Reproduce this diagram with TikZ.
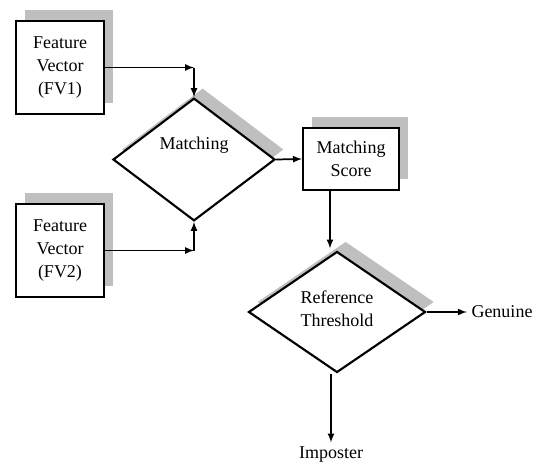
\documentclass[tikz,border=0pt]{standalone}
\usepackage{fontspec}
\setmainfont{Liberation Serif}
\usepackage{tikz}
\usetikzlibrary{arrows,positioning,shapes.geometric,shadows}
\tikzstyle{fvbox}=[draw,fill=white,line width=1.6pt,minimum width=66pt,minimum height=69.75pt,align=center,
  drop shadow={shadow xshift=6.75pt,shadow yshift=8.25pt,fill=black!25,opacity=1}]
\tikzstyle{scorebox}=[fvbox,minimum width=72pt,minimum height=46.5pt]
\tikzstyle{decision}=[diamond,draw,fill=white,line width=1.6pt,inner sep=0pt,
  drop shadow={shadow xshift=6.5pt,shadow yshift=7.5pt,fill=black!25,opacity=1}]
\tikzstyle{arr}=[-latex,line width=1.3pt]

\begin{document}
\begin{tikzpicture}[x=0.75pt,y=-0.75pt,font=\fontsize{13.5}{17.25}\selectfont]
\useasboundingbox (0,0) rectangle (537,464);
\node [fvbox] (fv1) at (60,67.5) {Feature\\Vector\\(FV1)};
\node [fvbox] (fv2) at (60,250.5) {Feature\\Vector\\(FV2)};
\node [decision,minimum width=121.5pt,minimum height=92pt,
  label={[yshift=10.5pt]center:Matching}] (match) at (194,159.5) {};
\node [scorebox] (score) at (351,159) {Matching\\Score};
\node [decision,minimum width=132.75pt,minimum height=90.75pt,
  label={[yshift=2.5pt,align=center]center:Reference\\Threshold}] (ref) at (337,312) {};
\node (genuine) at (502,312) {Genuine};
\node (imposter) at (331,455) {Imposter};

\coordinate (c1) at (match.north |- fv1.east);
\coordinate (c2) at (match.south |- fv2.east);
\draw [arr] (fv1.east) -- (c1);
\draw [arr] (c1) -- (match.north);
\draw [arr] (fv2.east) -- (c2);
\draw [arr] (c2) -- (match.south);
\draw [arr] (match.east) -- (score.west);
\draw [arr] ([xshift=-15.75pt]score.south) -- ([xshift=-15.75pt,yshift=1.5pt]score.south |- ref.north);
\draw [arr] (ref.east) -- (genuine.west);
\draw [arr] (imposter.north |- ref.south) -- (imposter.north);
\end{tikzpicture}
\end{document}
